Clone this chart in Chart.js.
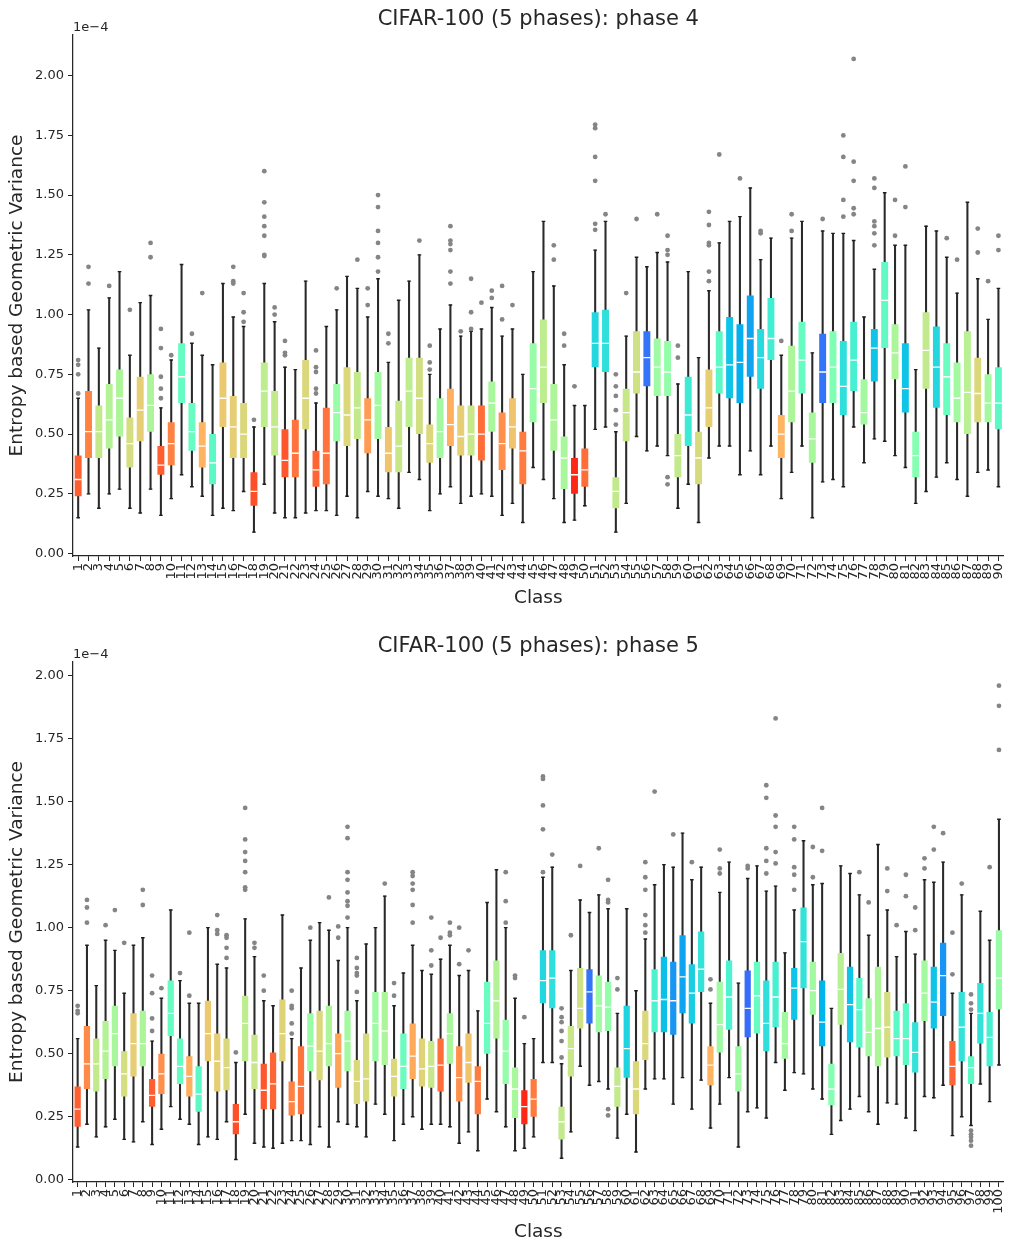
<!DOCTYPE html>
<html>
<head>
<meta charset="utf-8">
<script src="https://cdn.jsdelivr.net/npm/chart.js@4/dist/chart.umd.min.js"></script>
<style>
  body { margin: 0; background: #fff; width: 1009px; height: 1245px; overflow: hidden; }
  .panel { position: relative; width: 1009px; }
  #top { height: 622px; }
  #bottom { height: 623px; }
</style>
</head>
<body>
<div class="panel" id="top"><canvas id="phase4"></canvas></div>
<div class="panel" id="bottom"><canvas id="phase5"></canvas></div>
<script>
// ---- phase 4 (90 classes), values in units of 1e-4 ----
var p4Min = [0.15,0.25,0.19,0.25,0.27,0.19,0.17,0.27,0.16,0.23, 0.33,0.28,0.24,0.16,0.19,0.18,0.26,0.09,0.29,0.17,
  0.15,0.15,0.17,0.18,0.18,0.16,0.24,0.15,0.26,0.24, 0.23,0.19,0.34,0.31,0.18,0.25,0.28,0.21,0.24,0.25,
  0.24,0.16,0.21,0.13,0.36,0.31,0.23,0.13,0.14,0.20, 0.52,0.53,0.09,0.21,0.49,0.43,0.45,0.41,0.19,0.29,
  0.13,0.40,0.45,0.45,0.33,0.43,0.33,0.45,0.23,0.34, 0.45,0.15,0.30,0.31,0.28,0.53,0.38,0.48,0.47,0.41,
  0.36,0.21,0.26,0.32,0.38,0.31,0.24,0.34,0.35,0.28];
var p4Q1 = [0.24,0.40,0.40,0.44,0.49,0.36,0.47,0.51,0.33,0.37, 0.63,0.43,0.36,0.29,0.53,0.40,0.40,0.20,0.53,0.41,
  0.32,0.32,0.52,0.28,0.29,0.47,0.45,0.48,0.42,0.48, 0.34,0.34,0.53,0.50,0.38,0.40,0.45,0.41,0.41,0.39,
  0.51,0.35,0.44,0.29,0.55,0.63,0.43,0.27,0.25,0.28, 0.78,0.76,0.19,0.47,0.67,0.70,0.66,0.66,0.32,0.45,
  0.29,0.53,0.67,0.65,0.63,0.74,0.69,0.81,0.40,0.55, 0.67,0.38,0.63,0.63,0.58,0.68,0.54,0.72,0.86,0.73,
  0.59,0.32,0.69,0.61,0.58,0.55,0.50,0.55,0.55,0.52];
var p4Med = [0.31,0.51,0.51,0.56,0.65,0.46,0.60,0.62,0.37,0.46, 0.74,0.51,0.45,0.38,0.65,0.53,0.50,0.26,0.68,0.53,
  0.39,0.42,0.65,0.35,0.42,0.59,0.58,0.61,0.56,0.62, 0.42,0.45,0.68,0.65,0.46,0.51,0.54,0.49,0.50,0.50,
  0.63,0.46,0.53,0.43,0.69,0.78,0.56,0.40,0.33,0.35, 0.88,0.88,0.26,0.59,0.76,0.82,0.78,0.76,0.41,0.58,
  0.40,0.61,0.78,0.79,0.80,0.90,0.82,0.90,0.50,0.68, 0.81,0.48,0.76,0.78,0.70,0.81,0.59,0.86,1.06,0.84,
  0.69,0.41,0.85,0.78,0.74,0.65,0.675,0.67,0.63,0.63];
var p4Q3 = [0.41,0.68,0.62,0.71,0.77,0.57,0.74,0.75,0.45,0.55, 0.88,0.63,0.55,0.50,0.80,0.66,0.63,0.34,0.80,0.68,
  0.52,0.56,0.81,0.43,0.61,0.71,0.78,0.76,0.65,0.76, 0.53,0.64,0.82,0.82,0.54,0.65,0.69,0.62,0.62,0.62,
  0.72,0.59,0.65,0.51,0.88,0.98,0.71,0.49,0.40,0.44, 1.01,1.02,0.32,0.69,0.93,0.93,0.90,0.89,0.50,0.74,
  0.51,0.77,0.93,0.99,0.96,1.08,0.94,1.07,0.58,0.87, 0.97,0.59,0.92,0.93,0.89,0.97,0.73,0.94,1.22,0.96,
  0.88,0.51,1.01,0.95,0.88,0.80,0.93,0.82,0.75,0.78];
var p4Max = [0.65,1.02,0.86,1.07,1.18,0.83,1.05,1.08,0.61,0.81, 1.21,0.88,0.83,0.79,1.13,0.99,0.95,0.53,1.13,0.97,
  0.78,0.77,1.14,0.63,0.95,1.02,1.16,1.11,0.99,1.15, 0.80,1.06,1.14,1.25,0.75,0.94,1.04,0.91,0.93,0.94,
  1.03,0.91,0.94,0.75,1.18,1.39,1.12,0.79,0.62,0.62, 1.27,1.39,0.51,0.91,1.24,1.20,1.26,1.22,0.71,1.18,
  0.82,1.10,1.30,1.39,1.41,1.53,1.23,1.32,0.83,1.32, 1.39,0.84,1.35,1.34,1.34,1.31,0.99,1.19,1.51,1.29,
  1.29,0.77,1.37,1.35,1.24,1.09,1.47,1.15,0.98,1.11];
// position on the rainbow colormap used for each box
var p4Tone = [0.88,0.83,0.63,0.60,0.59,0.665,0.70,0.59,0.88,0.83, 0.45,0.45,0.75,0.43,0.71,0.70,0.68,0.90,0.62,0.63,
  0.89,0.85,0.68,0.87,0.85,0.55,0.68,0.63,0.79,0.57, 0.72,0.64,0.62,0.66,0.68,0.57,0.76,0.70,0.64,0.86,
  0.58,0.81,0.72,0.84,0.55,0.62,0.59,0.58,0.95,0.86, 0.32,0.34,0.63,0.64,0.655,0.15,0.56,0.54,0.63,0.37,
  0.67,0.70,0.43,0.28,0.24,0.22,0.33,0.38,0.75,0.59, 0.45,0.58,0.15,0.50,0.34,0.39,0.57,0.28,0.44,0.59,
  0.28,0.51,0.63,0.32,0.46,0.57,0.61,0.68,0.57,0.43];
var p4Fliers = [[0.81,0.79,0.75,0.67],[1.20,1.13],[],[1.12],[],[1.02],[],[1.30,1.24],[0.94,0.86,0.74,0.69,0.65],[0.83],
  [],[0.92],[1.09],[],[],[1.20,1.14,1.13],[1.09,1.01,0.97],[0.56],[1.60,1.47,1.41,1.37,1.33,1.25,1.245],[1.03,1.00],
  [0.89,0.84,0.83],[],[],[0.85,0.78,0.76,0.69,0.67],[],[1.11],[],[1.23],[1.11,1.04],[1.50,1.45,1.35,1.30,1.24,1.18],
  [0.92,0.88],[],[],[1.31],[0.87,0.80,0.77],[],[1.37,1.31,1.295,1.27,1.18,1.13],[0.93],[1.15,1.01,0.94],[1.05],
  [1.10,1.07],[1.12,0.98],[1.04],[],[],[],[1.29,1.23],[0.92,0.87],[0.70],[],
  [1.795,1.78,1.66,1.56,1.38,1.355],[1.42],[0.75,0.70,0.66,0.60,0.54],[1.09],[1.40],[],[1.42],[1.33,1.27,1.25,0.32,0.29],[0.87,0.82],[],
  [],[1.43,1.375,1.30,1.29,1.18,1.14],[1.67],[],[1.57],[],[1.35,1.34],[],[0.89],[1.42,1.35],
  [],[],[1.40],[],[1.75,1.66,1.48,1.41],[2.07,1.64,1.56,1.445,1.42],[],[1.57,1.53,1.39,1.37,1.34,1.29],[],[1.48,1.33],
  [1.62,1.45],[],[],[],[1.32],[1.23],[],[1.36,1.26],[1.14],[1.33,1.27]];

// ---- phase 5 (100 classes) ----
var p5Min = [0.13,0.22,0.17,0.21,0.24,0.16,0.15,0.23,0.14,0.20, 0.29,0.24,0.22,0.14,0.17,0.16,0.23,0.08,0.26,0.145,
  0.13,0.125,0.145,0.155,0.155,0.14,0.21,0.13,0.23,0.22, 0.21,0.17,0.30,0.26,0.155,0.22,0.25,0.20,0.22,0.22,
  0.21,0.145,0.19,0.115,0.32,0.27,0.21,0.115,0.125,0.17, 0.465,0.465,0.085,0.19,0.45,0.375,0.39,0.36,0.165,0.26,
  0.11,0.36,0.40,0.40,0.30,0.405,0.28,0.395,0.205,0.30, 0.405,0.13,0.27,0.285,0.245,0.465,0.355,0.425,0.42,0.36,
  0.32,0.18,0.235,0.28,0.33,0.27,0.22,0.305,0.30,0.245, 0.195,0.33,0.325,0.375,0.175,0.25,0.215,0.38,0.31,0.455];
var p5Q1 = [0.21,0.36,0.35,0.40,0.45,0.33,0.41,0.45,0.29,0.34, 0.57,0.38,0.33,0.27,0.47,0.35,0.355,0.18,0.47,0.36,
  0.28,0.28,0.47,0.255,0.26,0.43,0.395,0.45,0.365,0.43, 0.30,0.31,0.47,0.455,0.33,0.36,0.40,0.37,0.365,0.35,
  0.46,0.31,0.385,0.26,0.50,0.56,0.38,0.245,0.22,0.25, 0.70,0.68,0.16,0.41,0.60,0.62,0.585,0.59,0.29,0.405,
  0.26,0.475,0.585,0.585,0.575,0.66,0.62,0.745,0.375,0.505, 0.595,0.35,0.565,0.58,0.51,0.605,0.48,0.635,0.76,0.655,
  0.53,0.295,0.615,0.545,0.525,0.49,0.45,0.485,0.49,0.455, 0.425,0.63,0.60,0.65,0.375,0.47,0.38,0.54,0.45,0.675];
var p5Med = [0.28,0.46,0.46,0.51,0.58,0.42,0.54,0.54,0.335,0.42, 0.66,0.45,0.41,0.34,0.58,0.47,0.445,0.23,0.62,0.465,
  0.355,0.38,0.58,0.31,0.37,0.53,0.51,0.54,0.50,0.55, 0.39,0.40,0.62,0.59,0.41,0.45,0.49,0.44,0.45,0.455,
  0.58,0.405,0.465,0.39,0.62,0.71,0.51,0.36,0.29,0.32, 0.79,0.80,0.23,0.52,0.68,0.745,0.69,0.685,0.37,0.52,
  0.36,0.54,0.71,0.715,0.71,0.805,0.74,0.835,0.455,0.615, 0.725,0.42,0.68,0.73,0.62,0.725,0.54,0.76,0.945,0.75,
  0.625,0.36,0.755,0.695,0.675,0.585,0.60,0.605,0.56,0.56, 0.505,0.74,0.705,0.81,0.45,0.605,0.445,0.66,0.565,0.80];
var p5Q3 = [0.37,0.61,0.56,0.63,0.69,0.51,0.66,0.67,0.40,0.50, 0.79,0.56,0.49,0.45,0.71,0.58,0.56,0.30,0.73,0.575,
  0.46,0.505,0.715,0.39,0.53,0.66,0.67,0.69,0.58,0.67, 0.475,0.58,0.745,0.745,0.48,0.58,0.62,0.56,0.55,0.56,
  0.66,0.53,0.58,0.45,0.785,0.87,0.635,0.445,0.355,0.40, 0.91,0.91,0.29,0.61,0.84,0.835,0.81,0.785,0.445,0.69,
  0.47,0.67,0.835,0.885,0.865,0.97,0.855,0.985,0.53,0.785, 0.87,0.53,0.83,0.865,0.79,0.865,0.665,0.84,1.08,0.865,
  0.79,0.46,0.90,0.845,0.80,0.72,0.845,0.745,0.67,0.70, 0.625,0.87,0.845,0.94,0.55,0.745,0.49,0.78,0.665,0.99];
var p5Max = [0.56,0.93,0.77,0.95,0.91,0.74,0.93,0.96,0.55,0.72, 1.07,0.79,0.70,0.70,1.00,0.855,0.84,0.465,1.035,0.885,
  0.71,0.69,1.05,0.56,0.84,0.95,1.02,0.99,0.87,1.00, 0.71,0.935,1.00,1.125,0.69,0.82,0.93,0.83,0.815,0.875,
  0.93,0.81,0.83,0.67,1.10,1.23,1.00,0.72,0.54,0.56, 1.20,1.24,0.46,0.83,1.11,1.06,1.13,1.075,0.66,1.075,
  0.75,0.955,1.17,1.25,1.24,1.375,1.19,1.24,0.70,1.14, 1.26,0.78,1.195,1.245,1.145,1.165,0.90,1.07,1.345,1.17,
  1.175,0.68,1.245,1.215,1.13,0.97,1.33,1.07,0.885,0.985, 0.895,1.19,1.18,1.26,0.74,1.13,0.66,1.065,0.95,1.43];
var p5Tone = [0.88,0.82,0.63,0.60,0.58,0.665,0.70,0.59,0.88,0.81, 0.45,0.45,0.76,0.43,0.71,0.70,0.68,0.90,0.62,0.64,
  0.89,0.87,0.69,0.83,0.85,0.55,0.68,0.59,0.78,0.57, 0.68,0.67,0.56,0.59,0.68,0.46,0.77,0.69,0.64,0.86,
  0.58,0.81,0.72,0.84,0.46,0.60,0.54,0.58,0.95,0.84, 0.32,0.34,0.63,0.64,0.655,0.15,0.56,0.54,0.63,0.31,
  0.68,0.68,0.40,0.27,0.20,0.22,0.30,0.35,0.75,0.56, 0.40,0.56,0.14,0.45,0.34,0.39,0.57,0.28,0.35,0.57,
  0.25,0.51,0.61,0.28,0.43,0.57,0.59,0.665,0.43,0.43, 0.35,0.57,0.28,0.20,0.87,0.35,0.43,0.35,0.39,0.55];
var p5Fliers = [[0.69,0.67,0.66],[1.11,1.08,1.02],[],[1.01],[1.07],[0.94],[],[1.15,1.09],[0.81,0.74,0.64,0.59],[0.76],
  [],[0.82],[0.98,0.73],[],[],[1.05,0.99,0.975],[0.97,0.96,0.92,0.88],[0.505],[1.475,1.35,1.30,1.265,1.22,1.16,1.15],[0.94,0.92],
  [0.81,0.75],[],[],[0.75,0.69,0.68,0.62,0.58],[],[1.00],[],[1.12],[1.005,0.96],[1.40,1.355,1.22,1.19,1.14,1.105,1.087,1.04],
  [0.88,0.84,0.82,0.81,0.745],[],[],[1.175],[0.78,0.73],[],[1.22,1.205,1.175,1.15,1.09,1.02],[],[1.04,0.91,0.85],[0.96],
  [1.02,0.98,0.97],[1.00,0.855],[0.91],[],[],[],[1.22,1.105,1.02],[0.81,0.80],[0.645],[],
  [1.60,1.59,1.485,1.39,1.22],[1.29],[0.68,0.645,0.625,0.59,0.55,0.485],[0.97],[1.245],[],[1.315],[1.19,1.11,1.10,0.28,0.255],[0.80,0.755],[],
  [],[1.26,1.20,1.15,1.05,1.01,0.98],[1.54],[],[1.37],[],[1.26],[],[0.795,0.755],[1.31,1.235,1.215],
  [],[],[1.245,1.235],[],[1.565,1.515,1.315,1.265,1.215],[1.83,1.445,1.40,1.30,1.255],[],[1.40,1.35,1.24,1.21,1.15],[],[1.32,1.20],
  [1.475,1.305],[],[],[],[1.22],[1.10],[],[1.235,1.145],[1.01],[1.21,1.125],
  [1.08,0.99],[1.275,1.235],[1.40,1.31],[1.375],[0.98,0.815],[1.175],[0.735,0.70,0.675,0.195,0.18,0.17,0.155,0.135],[],[1.24],[1.96,1.88,1.705]];

var yTicks = [0, 0.25, 0.5, 0.75, 1, 1.25, 1.5, 1.75, 2];

Chart.defaults.font.family = '"DejaVu Sans", sans-serif';
Chart.defaults.color = '#262626';

// matplotlib "rainbow" colormap
function rainbow(t) {
  var r = Math.min(1, Math.abs(2 * t - 0.5));
  var g = Math.sin(Math.PI * t);
  var b = Math.cos(Math.PI * t / 2);
  return 'rgb(' + Math.round(r * 255) + ',' + Math.round(g * 255) + ',' + Math.round(b * 255) + ')';
}

// title centred over the axes (like matplotlib) and the "1e-4" offset label
var axesText = {
  id: 'axesText',
  afterDraw: function(chart, args, o) {
    var a = chart.chartArea, ctx = chart.ctx;
    ctx.save();
    ctx.fillStyle = '#262626';
    ctx.font = '21px "DejaVu Sans"';
    ctx.textAlign = 'center';
    ctx.textBaseline = 'middle';
    ctx.fillText(o.title, (a.left + a.right) / 2, o.titleY);
    ctx.font = '13px "DejaVu Sans"';
    ctx.textAlign = 'left';
    ctx.textBaseline = 'alphabetic';
    ctx.fillText('1e\u22124', a.left, a.top - 4);
    ctx.restore();
  }
};

var BOX = 0.67;

function boxPanel(id, p) {
  var labels = [];
  for (var i = 0; i < p.med.length; i++) labels.push(String(i + 1));

  var boxes = [], whisk = [], flierPts = [];
  p.med.forEach(function(m, i) {
    boxes.push([p.q1[i], p.q3[i]]);
    whisk.push([p.min[i], p.max[i]]);
    p.fliers[i].forEach(function(v) { flierPts.push({ x: labels[i], y: v }); });
  });

  var medRadius = function(c) { return c.chart.scales.x.width / labels.length * BOX / 2; };

  new Chart(document.getElementById(id), {
    type: 'bar',
    data: {
      labels: labels,
      datasets: [
        { type: 'line', data: flierPts, showLine: false, order: 1,
          pointRadius: 2.4, pointBackgroundColor: '#858585', pointBorderWidth: 0 },
        { type: 'line', data: p.med, showLine: false, order: 2,
          pointStyle: 'line', pointRadius: medRadius, pointBorderColor: '#ffffff', pointBorderWidth: 1.3 },
        { type: 'line', data: p.min, showLine: false, order: 3,
          pointStyle: 'line', pointRadius: 1.8, pointBorderColor: '#1e1e1e', pointBorderWidth: 1.4 },
        { type: 'line', data: p.max, showLine: false, order: 3,
          pointStyle: 'line', pointRadius: 1.8, pointBorderColor: '#1e1e1e', pointBorderWidth: 1.4 },
        { data: boxes, order: 4, grouped: false, barPercentage: BOX, categoryPercentage: 1,
          backgroundColor: p.tone.map(rainbow), borderWidth: 0 },
        { data: whisk, order: 5, grouped: false, barThickness: 1.4,
          backgroundColor: '#2a2a2a', borderWidth: 0 }
      ]
    },
    options: {
      responsive: true,
      maintainAspectRatio: false,
      animation: false,
      events: [],
      layout: { padding: { left: 0, right: 1, top: p.top, bottom: 0 } },
      plugins: {
        legend: { display: false },
        tooltip: { enabled: false },
        title: { display: false },
        axesText: { title: p.title, titleY: p.titleY }
      },
      scales: {
        x: {
          type: 'category',
          offset: true,
          grid: { offset: false, drawOnChartArea: false, drawTicks: true, tickLength: 5, color: '#262626', lineWidth: 1 },
          border: { display: true, color: '#262626', width: 1.25 },
          ticks: { autoSkip: false, minRotation: 90, maxRotation: 90, padding: 2, font: { size: 13 } },
          title: { display: true, text: 'Class', font: { size: 18.5 }, padding: { top: 0, bottom: p.xTitleBottom } },
          afterFit: function(s) { s.height = p.xHeight; s.paddingLeft = 0; s.paddingRight = 0; }
        },
        y: {
          min: p.lo,
          max: p.hi,
          grid: { drawOnChartArea: false, drawTicks: true, tickLength: 5, color: '#262626', lineWidth: 1 },
          border: { display: true, color: '#262626', width: 1.25 },
          ticks: { stepSize: 0.25, includeBounds: false, padding: 4, font: { size: 13 },
            callback: function(v) { return yTicks.indexOf(Math.round(v * 100) / 100) >= 0 ? v.toFixed(2) : null; } },
          title: { display: true, text: 'Entropy based Geometric Variance', font: { size: 18.5 }, padding: { top: 6, bottom: 0 } },
          afterFit: function(s) { s.width = 73; s.paddingTop = 0; s.paddingBottom = 0; }
        }
      }
    },
    plugins: [axesText]
  });
}

boxPanel('phase4', {
  title: 'CIFAR-100 (5 phases): phase 4',
  min: p4Min, q1: p4Q1, med: p4Med, q3: p4Q3, max: p4Max, tone: p4Tone, fliers: p4Fliers,
  lo: -0.01, hi: 2.17,
  top: 35, titleY: 20, xHeight: 66, xTitleBottom: 13
});
boxPanel('phase5', {
  title: 'CIFAR-100 (5 phases): phase 5',
  min: p5Min, q1: p5Q1, med: p5Med, q3: p5Q3, max: p5Max, tone: p5Tone, fliers: p5Fliers,
  lo: -0.009, hi: 2.054,
  top: 40, titleY: 25, xHeight: 63, xTitleBottom: 2
});
</script>
</body>
</html>
